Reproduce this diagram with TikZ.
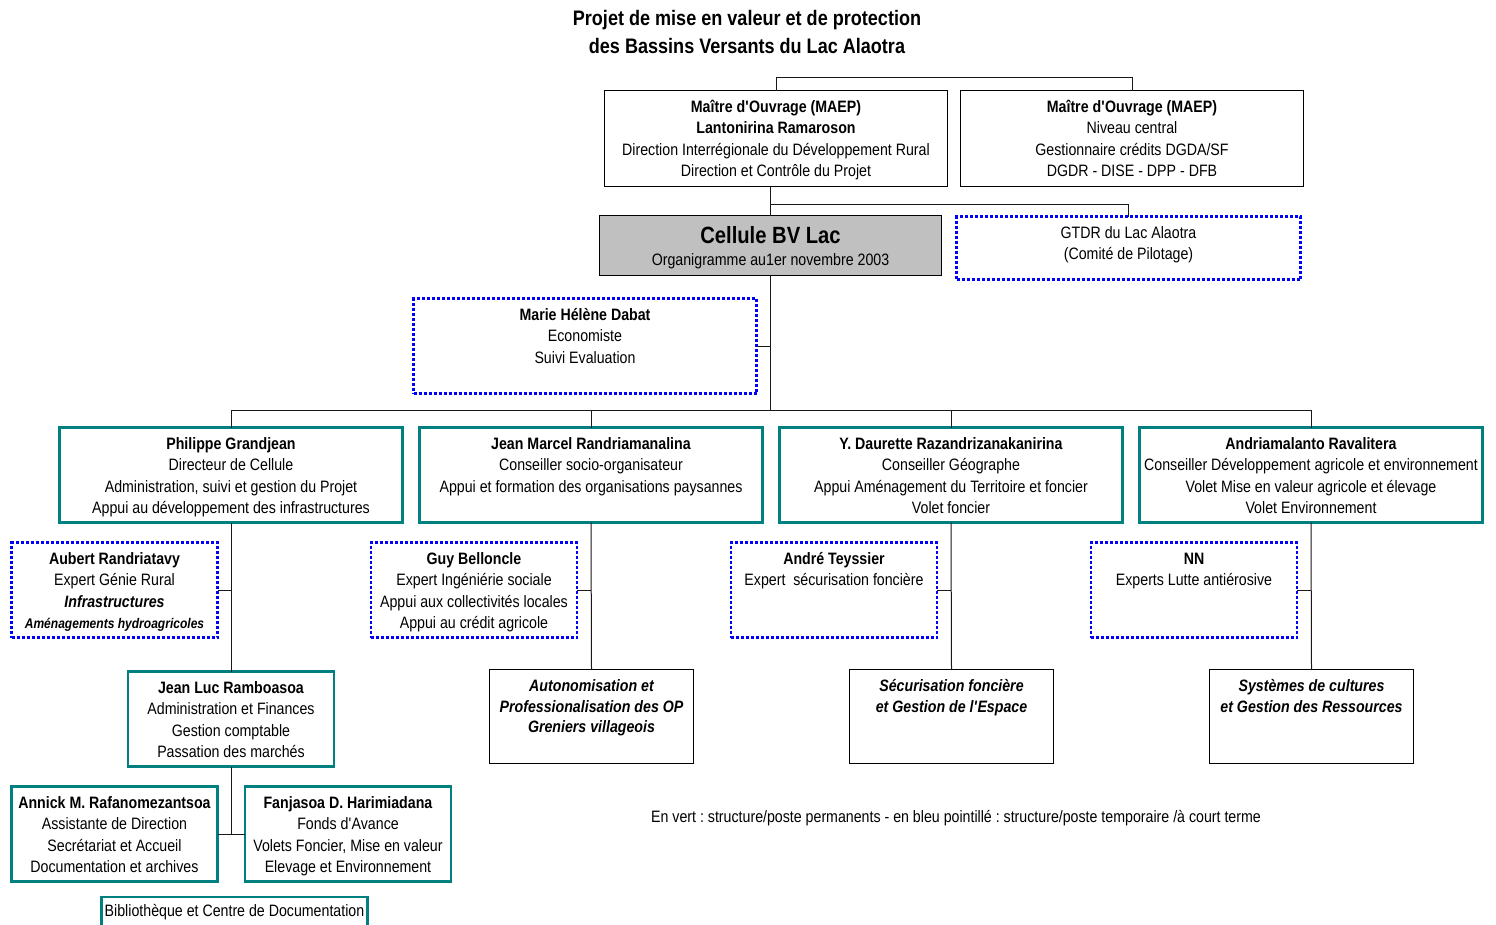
\documentclass[tikz,border=0pt]{standalone}
\usepackage{fontspec}
\setmainfont{Liberation Sans}[FakeStretch=0.86]
\usepackage{xcolor}
\usetikzlibrary{positioning}
\definecolor{permgreen}{RGB}{0,128,128}
\definecolor{tempblue}{RGB}{0,0,255}
\definecolor{cellgray}{RGB}{192,192,192}
\frenchspacing
\newcommand{\orgtext}[3]{\parbox[c][#2][t]{#1}{\centering\rule{0pt}{22pt}#3}}
\newcommand{\widebox}[1]{\orgtext{343pt}{95pt}{#1}}
\newcommand{\narrowbox}[1]{\orgtext{206pt}{95pt}{#1}}
\newcommand{\q}{\textquotesingle}
\tikzset{
    orgbox/.style = {align=center, inner sep=0pt, outer sep=0pt, font=\fontsize{16.5}{21.3}\selectfont},
    perm_box/.style = {orgbox, draw=permgreen, line width=2.8pt},
    temp_box/.style = {orgbox, draw=tempblue, line width=2.8pt, dash pattern=on 3pt off 2pt},
    plain_box/.style = {orgbox, draw=black, line width=0.9pt},
    volet_box/.style = {plain_box, font=\fontsize{16.5}{20.5}\selectfont\bfseries\itshape},
    link/.style = {draw=black!90, line width=1pt}
}
\begin{document}
\begin{tikzpicture}[x=1pt, y=-1pt]
\useasboundingbox (0,0) rectangle (1496,924);
% title
\node[align=center, font=\fontsize{21}{28}\selectfont\bfseries] (title) at (747,32)
    {Projet de mise en valeur et de protection\\des Bassins Versants du Lac Alaotra};
% maitres d'ouvrage
\node[plain_box] (maep1) at (776,138.5) {\orgtext{343pt}{96pt}{\textbf{Maître d\q Ouvrage (MAEP)}\\\textbf{Lantonirina Ramaroson}\\Direction Interrégionale du Développement Rural\\Direction et Contrôle du Projet}};
\node[plain_box] (maep2) at (1132,138.5) {\orgtext{343pt}{96pt}{\textbf{Maître d\q Ouvrage (MAEP)}\\Niveau central\\Gestionnaire crédits DGDA/SF\\DGDR - DISE - DPP - DFB}};
% cellule
\node[plain_box, fill=cellgray, minimum width=342, minimum height=60] (cell) at (770.5,245.5) {};
\node[align=center, font=\fontsize{16.5}{21}\selectfont] (celltxt) at ([yshift=-2pt]cell.center)
    {{\fontsize{23.5}{24}\selectfont\bfseries Cellule BV Lac}\\[1pt]Organigramme au1er novembre 2003};
\node[temp_box] (gtdr) at (1128.5,248) {\orgtext{344pt}{63pt}{GTDR du Lac Alaotra\\(Comité de Pilotage)}};
\node[temp_box] (marie) at (585,346) {\widebox{\textbf{Marie Hélène Dabat}\\Economiste\\Suivi Evaluation}};
% conseillers
\node[perm_box] (p1) at (231,475) {\widebox{\textbf{Philippe Grandjean}\\Directeur de Cellule\\Administration, suivi et gestion du Projet\\Appui au développement des infrastructures}};
\node[perm_box] (p2) at (591,475) {\widebox{\textbf{Jean Marcel Randriamanalina}\\Conseiller socio-organisateur\\Appui et formation des organisations paysannes}};
\node[perm_box] (p3) at (951,475) {\widebox{\textbf{Y. Daurette Razandrizanakanirina}\\Conseiller Géographe\\Appui Aménagement du Territoire et foncier\\Volet foncier}};
\node[perm_box] (p4) at (1311,475) {\widebox{\textbf{Andriamalanto Ravalitera}\\Conseiller Développement agricole et environnement\\Volet Mise en valeur agricole et élevage\\Volet Environnement}};
% experts
\node[temp_box] (aubert) at (114.5,590) {\narrowbox{\textbf{Aubert Randriatavy}\\Expert Génie Rural\\\textbf{\textit{Infrastructures}}\\{\fontsize{14}{19}\selectfont\bfseries\itshape Aménagements hydroagricoles}}};
\node[temp_box] (guy) at (474,590) {\narrowbox{\textbf{Guy Belloncle}\\Expert Ingéniérie sociale\\Appui aux collectivités locales\\Appui au crédit agricole}};
\node[temp_box] (andre) at (834,590) {\narrowbox{\textbf{André Teyssier}\\Expert\ \ sécurisation foncière}};
\node[temp_box] (nn) at (1194,590) {\narrowbox{\textbf{NN}\\Experts Lutte antiérosive}};
% volets
\node[volet_box] (op) at (591.5,716.5) {\orgtext{204pt}{94pt}{Autonomisation et\\Professionalisation des OP\\Greniers villageois}};
\node[volet_box] (fonc) at (951.5,716.5) {\orgtext{204pt}{94pt}{Sécurisation foncière\\et Gestion de l\q Espace}};
\node[volet_box] (sys) at (1311.5,716.5) {\orgtext{204pt}{94pt}{Systèmes de cultures\\et Gestion des Ressources}};
% administration
\node[perm_box] (jl) at (231,719) {\narrowbox{\textbf{Jean Luc Ramboasoa}\\Administration et Finances\\Gestion comptable\\Passation des marchés}};
\node[perm_box] (annick) at (114.5,834) {\narrowbox{\textbf{Annick M. Rafanomezantsoa}\\Assistante de Direction\\Secrétariat et Accueil\\Documentation et archives}};
\node[perm_box] (fanja) at (348,834) {\narrowbox{\textbf{Fanjasoa D. Harimiadana}\\Fonds d\q Avance\\Volets Foncier, Mise en valeur\\Elevage et Environnement}};
\node[perm_box, minimum width=266, minimum height=30] (biblio) at (234.5,912) {Bibliothèque et Centre de Documentation};
% legende
\node[font=\fontsize{16.5}{20}\selectfont] (legend) at (956,818) {En vert : structure/poste permanents - en bleu pointillé : structure/poste temporaire /à court terme};
% liaisons
\coordinate (bar) at (cell.south |- 0,410);
\draw[link] (maep1.north) -- ++(0,-13) -| (maep2.north);
\draw[link] (cell.north) -- (cell.north |- maep1.south);
\draw[link] (gtdr.north) -- ++(0,-12) -| (cell.north);
\draw[link] (cell.south) -- (bar);
\draw[link] (marie.east) -- (marie.east -| cell.south);
\foreach \p in {p1,p2,p3,p4}
    \draw[link] (\p.north) |- (bar);
\foreach \t/\p in {aubert/p1, guy/p2, andre/p3, nn/p4}
    \draw[link] (\t.east) -- (\t.east -| \p.south);
\foreach \p/\v in {p1/jl, p2/op, p3/fonc, p4/sys}
    \draw[link] (\p.south) -- (\v.north);
\draw[link] (jl.south) -- (jl.south |- annick.east);
\draw[link] (annick.east) -- (fanja.west);
\end{tikzpicture}
\end{document}
